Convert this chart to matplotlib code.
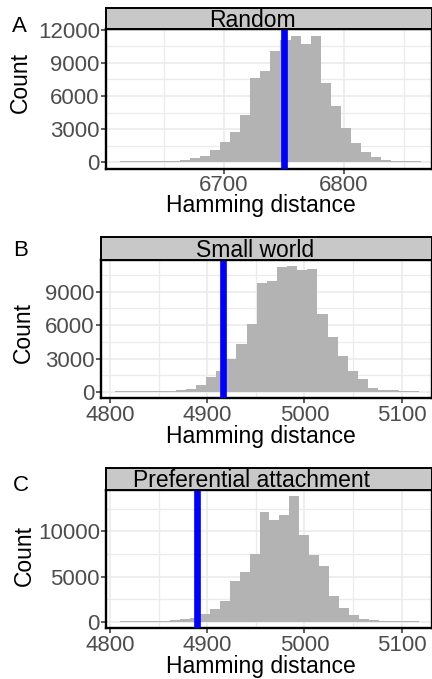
import matplotlib
matplotlib.use('Agg')
import matplotlib.pyplot as plt
import numpy as np

plt.rcParams['font.family'] = ['Liberation Sans', 'DejaVu Sans']

W, H = 432, 679

# histogram of hamming distances for each null model (30 bins each)
titles = ['Random', 'Small world', 'Preferential attachment']
tags = ['A', 'B', 'C']

random_start, random_width = 6614.0, 8.33
random_counts = [90, 90, 90, 90, 100, 120, 170, 360, 600, 1090,
                 1810, 2780, 4260, 7610, 8210, 10030, 11030, 11450, 10660, 11390,
                 7130, 5070, 3140, 1780, 970, 510, 170, 100, 90, 90]
random_observed = 6750

smallworld_start, smallworld_width = 4805.0, 10.42
smallworld_counts = [90, 90, 90, 90, 100, 110, 140, 300, 600, 1300,
                     1840, 2940, 4340, 6090, 9740, 9920, 11170, 11260, 10900, 10990,
                     6980, 4930, 3240, 1900, 1190, 390, 210, 140, 100, 90]
smallworld_observed = 4916

prefatt_start, prefatt_width = 4810.3, 10.25
prefatt_counts = [90, 90, 100, 110, 120, 170, 290, 440, 840, 1390,
                  2260, 4530, 5510, 7480, 12080, 11240, 11750, 13850, 9560, 7370,
                  6170, 2880, 1570, 800, 360, 170, 110, 100, 90, 90]
prefatt_observed = 4889.5

xlims = [(6602, 6873), (4790.7, 5130.7), (4795.9, 5130.7)]
xticks = [[6700, 6800], [4800, 4900, 5000, 5100], [4800, 4900, 5000, 5100]]
yticks = [[0, 3000, 6000, 9000, 12000], [0, 3000, 6000, 9000], [0, 5000, 10000]]

starts = [random_start, smallworld_start, prefatt_start]
widths = [random_width, smallworld_width, prefatt_width]
counts = [random_counts, smallworld_counts, prefatt_counts]
observed = [random_observed, smallworld_observed, prefatt_observed]

# layout in pixels: (left, strip_top, panel_top, panel_bottom)
boxes = [(106, 8, 29.3, 168.7), (101, 237.3, 260, 398.3), (106, 468.3, 490, 628.3)]
right = 431.5
strip_text_pos = [(252.5, 26.7), (255.5, 257.3), (251.7, 487.3)]
tag_pos = [(19, 31.7), (21, 256), (21, 491)]
ylab_pos = [(20, 82.5), (23, 332.5), (24, 556)]
xlab_pos = [(261, 211.7), (260.5, 442.7), (260.5, 672.7)]


def rect(left, top, rgt, bottom):
    return [left / W, 1 - bottom / H, (rgt - left) / W, (bottom - top) / H]


fig = plt.figure(figsize=(W / 100, H / 100), dpi=100)
fig.patch.set_facecolor('white')

for i in range(3):
    left, stop, ptop, pbot = boxes[i]
    ax = fig.add_axes(rect(left, ptop, right, pbot))
    st = fig.add_axes(rect(left, stop, right, ptop))

    c = np.array(counts[i], dtype=float)
    edges = starts[i] + widths[i] * np.arange(len(c) + 1)
    ax.bar(edges[:-1], c, width=widths[i], align='edge', color='#B3B3B3',
           linewidth=0, zorder=2)
    ax.axvline(observed[i], color='#0000FF', lw=4.8, zorder=3)

    ax.set_xticks(xticks[i])
    ax.set_yticks(yticks[i])
    ax.set_xticks(np.arange(xticks[i][0] - 50, xlims[i][1], 100), minor=True)
    ystep = yticks[i][1] - yticks[i][0]
    ax.set_yticks(np.arange(ystep / 2, 1.05 * c.max(), ystep), minor=True)
    # limits last, so the minor ticks don't widen the view
    ax.set_xlim(*xlims[i])
    ax.set_ylim(-0.05 * c.max(), 1.05 * c.max())
    ax.set_axisbelow(True)
    ax.grid(which='major', color='#EBEBEB', lw=1.2, zorder=0)
    ax.grid(which='minor', color='#EBEBEB', lw=0.9, zorder=0)
    ax.tick_params(which='major', direction='out', length=3.5, width=1.1,
                   color='#333333', labelcolor='#4D4D4D', labelsize=16, pad=1)
    ax.tick_params(which='minor', length=0)
    for sp in ax.spines.values():
        sp.set_color('black')
        sp.set_linewidth(1.7)

    st.set_facecolor('#C8C8C8')
    st.set_xticks([])
    st.set_yticks([])
    for sp in st.spines.values():
        sp.set_color('black')
        sp.set_linewidth(1.4)

    tx, ty = strip_text_pos[i]
    fig.text(tx / W, 1 - ty / H, titles[i], ha='center', va='baseline',
             fontsize=16.5, color='black')
    gx, gy = tag_pos[i]
    fig.text(gx / W, 1 - gy / H, tags[i], ha='center', va='baseline',
             fontsize=16, color='black')
    lx, ly = ylab_pos[i]
    fig.text(lx / W, 1 - ly / H, 'Count', ha='center', va='center',
             rotation=90, fontsize=16.5, color='black')
    hx, hy = xlab_pos[i]
    fig.text(hx / W, 1 - hy / H, 'Hamming distance', ha='center', va='baseline',
             fontsize=16.5, color='black')

fig.savefig('out.png', dpi=100)
